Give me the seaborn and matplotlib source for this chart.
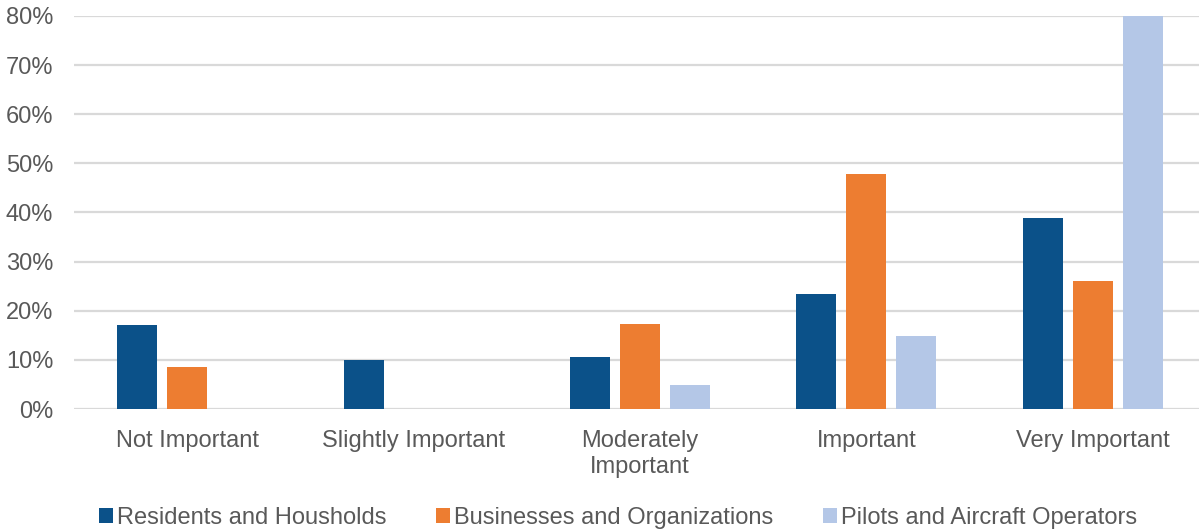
import matplotlib
matplotlib.use("Agg")
import matplotlib.pyplot as plt
from matplotlib.ticker import PercentFormatter
import pandas as pd
import seaborn as sns

categories = ["Not Important", "Slightly Important", "Moderately\nImportant",
              "Important", "Very Important"]
residents = [17.0, 10.0, 10.5, 23.5, 38.8]
businesses = [8.6, 0.0, 17.3, 47.8, 26.0]
pilots = [0.0, 0.0, 4.9, 14.9, 80.0]
series_names = ["Residents and Housholds", "Businesses and Organizations",
                "Pilots and Aircraft Operators"]
colors = ["#0B5189", "#ED7D31", "#B4C7E7"]

rows = []
for name, vals in zip(series_names, [residents, businesses, pilots]):
    for cat, v in zip(categories, vals):
        rows.append({"category": cat, "group": name, "value": v})
df = pd.DataFrame(rows)

sns.set_theme(style="white")
plt.rcParams["font.family"] = ["Liberation Sans", "DejaVu Sans"]
text_color = "#595959"
grid_color = "#D9D9D9"
fs = 17

fig = plt.figure(figsize=(11.99, 5.31), dpi=100)
ax = fig.add_axes([74 / 1199, 1 - 409 / 531, (1206 - 74) / 1199, (409 - 16) / 531])

sns.barplot(data=df, x="category", y="value", hue="group",
            order=categories, hue_order=series_names, palette=colors,
            width=0.662, gap=0.2, saturation=1, errorbar=None, ax=ax,
            edgecolor="none")

ax.set_ylim(0, 80)
ax.set_xlim(-0.5, 4.5)
ax.set_yticks(range(0, 81, 10))
ax.yaxis.set_major_formatter(PercentFormatter(decimals=0))
ax.grid(axis="y", color=grid_color, linewidth=1.6)
ax.set_axisbelow(True)
for s in ax.spines.values():
    s.set_visible(False)
ax.set_xlabel("")
ax.set_ylabel("")
ax.tick_params(axis="y", length=0, pad=15, labelsize=fs, labelcolor=text_color)
ax.tick_params(axis="x", length=0, pad=15, labelsize=fs, labelcolor=text_color)
for lbl in ax.get_xticklabels():
    lbl.set_linespacing(1.25)

sns.move_legend(ax, "lower center", bbox_to_anchor=(0.5 - 23 / 1199, -0.36),
                bbox_transform=ax.transAxes, ncol=3, frameon=False, title=None,
                fontsize=fs, handlelength=0.6, handleheight=0.6,
                handletextpad=0.17, columnspacing=2.1)
for t in ax.get_legend().get_texts():
    t.set_color(text_color)

fig.savefig("out.png", dpi=100, facecolor="white")
